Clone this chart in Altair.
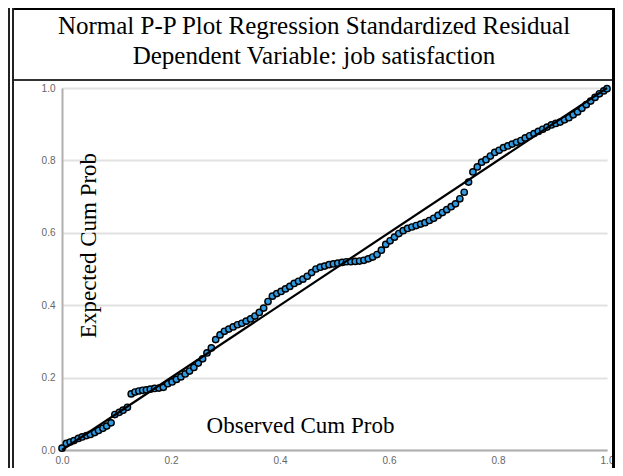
import altair as alt
import pandas as pd

# Observed cumulative probability (x) and expected cumulative probability (y)
observed = [0.000, 0.008, 0.015, 0.022, 0.030, 0.037, 0.045, 0.052, 0.060, 0.067,
            0.075, 0.082, 0.090, 0.097, 0.105, 0.112, 0.120, 0.127, 0.134, 0.141,
            0.148, 0.155, 0.162, 0.170, 0.178, 0.186, 0.194, 0.202, 0.210, 0.218,
            0.226, 0.234, 0.242, 0.250, 0.258, 0.266, 0.274, 0.282, 0.290, 0.298,
            0.306, 0.314, 0.322, 0.330, 0.338, 0.346, 0.354, 0.362, 0.370, 0.378,
            0.386, 0.394, 0.402, 0.410, 0.418, 0.426, 0.434, 0.442, 0.450, 0.458,
            0.466, 0.474, 0.482, 0.490, 0.498, 0.506, 0.514, 0.522, 0.530, 0.538,
            0.546, 0.554, 0.562, 0.570, 0.578, 0.586, 0.594, 0.602, 0.610, 0.618,
            0.626, 0.634, 0.642, 0.650, 0.658, 0.666, 0.674, 0.682, 0.690, 0.698,
            0.706, 0.714, 0.722, 0.730, 0.738, 0.746, 0.754, 0.762, 0.770, 0.778,
            0.786, 0.794, 0.802, 0.810, 0.818, 0.826, 0.834, 0.842, 0.850, 0.858,
            0.866, 0.874, 0.882, 0.890, 0.898, 0.906, 0.914, 0.922, 0.930, 0.938,
            0.946, 0.954, 0.962, 0.970, 0.978, 0.986, 0.994, 1.000]
expected = [0.005, 0.018, 0.022, 0.026, 0.032, 0.036, 0.040, 0.043, 0.048, 0.054,
            0.060, 0.066, 0.075, 0.098, 0.104, 0.110, 0.118, 0.155, 0.160, 0.163,
            0.165, 0.166, 0.168, 0.170, 0.171, 0.173, 0.183, 0.188, 0.195, 0.202,
            0.210, 0.218, 0.228, 0.240, 0.252, 0.268, 0.282, 0.305, 0.318, 0.328,
            0.334, 0.340, 0.346, 0.350, 0.356, 0.362, 0.370, 0.380, 0.392, 0.410,
            0.425, 0.432, 0.438, 0.445, 0.452, 0.460, 0.466, 0.472, 0.480, 0.490,
            0.500, 0.505, 0.508, 0.512, 0.514, 0.516, 0.518, 0.520, 0.520, 0.521,
            0.522, 0.524, 0.528, 0.533, 0.540, 0.552, 0.568, 0.578, 0.588, 0.598,
            0.606, 0.612, 0.616, 0.620, 0.624, 0.628, 0.634, 0.640, 0.648, 0.656,
            0.664, 0.672, 0.680, 0.694, 0.712, 0.740, 0.768, 0.782, 0.795, 0.802,
            0.812, 0.822, 0.828, 0.835, 0.840, 0.845, 0.850, 0.855, 0.862, 0.868,
            0.874, 0.880, 0.886, 0.892, 0.898, 0.902, 0.906, 0.912, 0.918, 0.926,
            0.934, 0.944, 0.954, 0.964, 0.974, 0.984, 0.992, 0.998]

ref_line = [0.0, 1.0]
tick_values = [0.0, 0.2, 0.4, 0.6, 0.8, 1.0]
title_lines = ["Normal P-P Plot Regression Standardized Residual",
               "Dependent Variable: job satisfaction"]

pts = pd.DataFrame({"obs": observed, "exp": expected})
ref = pd.DataFrame({"obs": ref_line, "exp": ref_line})
one = pd.DataFrame({"k": [0]})

x_scale = alt.Scale(domain=[0, 1], nice=False)
y_scale = alt.Scale(domain=[0, 1], nice=False)

x_axis = alt.Axis(values=tick_values, format=".1f", grid=False, ticks=False,
                  domainColor="#b0b0b0", domainWidth=2,
                  labelColor="#666666", labelFont="Liberation Sans", labelFontSize=10,
                  labelPadding=5, labelFlush=False,
                  title="Observed Cum Prob", titleFont="Liberation Serif",
                  titleFontSize=23, titleFontWeight="normal", titleColor="black",
                  titleX=238, titleY=-25, titleBaseline="middle", titleAlign="center")
y_axis = alt.Axis(values=tick_values, format=".1f", grid=True, ticks=False,
                  gridColor="#e2e2e2", gridWidth=2,
                  domainColor="#b0b0b0", domainWidth=2,
                  labelColor="#666666", labelFont="Liberation Sans", labelFontSize=10,
                  labelPadding=7, labelFlush=False,
                  title="Expected Cum Prob", titleFont="Liberation Serif",
                  titleFontSize=23, titleFontWeight="normal", titleColor="black",
                  titleX=26, titleY=157, titleAngle=270,
                  titleBaseline="middle", titleAlign="center")

points = alt.Chart(pts).mark_point(
    filled=True, shape="circle", size=40, fill="#2f9be3", stroke="black",
    strokeWidth=1.4, opacity=1, clip=False
).encode(
    x=alt.X("obs:Q", scale=x_scale, axis=x_axis),
    y=alt.Y("exp:Q", scale=y_scale, axis=y_axis),
)

line = alt.Chart(ref).mark_line(color="black", strokeWidth=2.2).encode(
    x=alt.X("obs:Q", scale=x_scale),
    y=alt.Y("exp:Q", scale=y_scale),
)

def title_text(txt, y):
    return alt.Chart(one).mark_text(
        text=txt, font="Liberation Serif", fontSize=25, color="black",
        align="center", baseline="alphabetic"
    ).encode(x=alt.value(252), y=alt.value(y))

titles = [title_text(title_lines[0], -54), title_text(title_lines[1], -24)]

# document frame lines around the figure
def hrule(y, x1, x2, w, c):
    return alt.Chart(one).mark_rule(strokeWidth=w, color=c).encode(
        x=alt.value(x1), x2=alt.value(x2), y=alt.value(y))

def vrule(x, y1, y2, w, c):
    return alt.Chart(one).mark_rule(strokeWidth=w, color=c).encode(
        x=alt.value(x), y=alt.value(y1), y2=alt.value(y2))

frame = [
    hrule(-79, -49, 558, 2, "black"),
    hrule(-8, -49, 552, 2, "#333333"),
    vrule(-49, -80, 380, 2, "#222222"),
    vrule(-53, -88, 380, 2, "#222222"),
    vrule(551.5, -80, 380, 3, "black"),
]

chart = alt.layer(points, line, *titles, *frame).properties(
    width=545, height=362,
    autosize=alt.AutoSizeParams(type="none"),
    padding={"left": 54, "top": 80, "right": 8, "bottom": 18},
    background="white",
).configure_view(strokeWidth=0)

chart.save("out.html", embed_options={"renderer": "svg", "actions": False})
